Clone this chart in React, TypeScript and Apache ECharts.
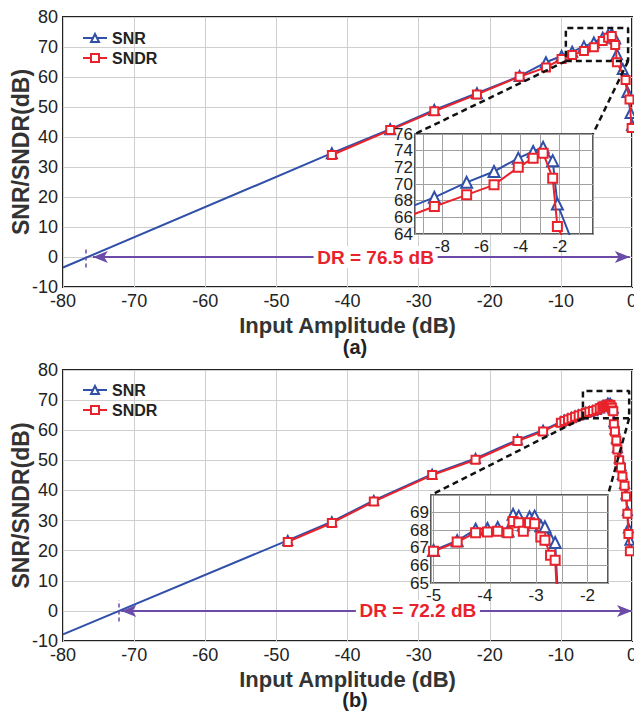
import React, { useEffect, useRef } from "react";
import * as echarts from "echarts";

const FONT = '"Liberation Sans", Arial, Helvetica, sans-serif';
const BLUE = "#2f4fa8";
const RED = "#e8232b";
const PURPLE = "#6b4aa8";
const GRID = "#cfcfcf";
const INK = "#222";

// ---------- Figure (a) ----------
const A_FIT_X = [-80, -42.2];
const A_FIT_Y = [-3.5, 34.6];
const A_SNR_X = [-42.2, -34, -27.8, -21.8, -15.8, -12.1, -9.9, -8.41, -6.76, -5.36, -4.12, -3.36, -2.85, -2.36, -2.12, -1.3, -0.65, -0.2, 0];
const A_SNR_Y = [34.6, 42.6, 49, 54.6, 60.3, 64.9, 67.0, 68.4, 70.2, 71.5, 73.1, 73.9, 74.4, 72.8, 67.6, 62.7, 55, 48, 44];
const A_SNDR_X = [-42.2, -34, -27.8, -21.8, -15.8, -12.1, -9.9, -8.41, -6.76, -5.36, -4.12, -3.36, -2.85, -2.36, -2.12, -0.9, -0.35, -0.05];
const A_SNDR_Y = [34, 42.3, 48.6, 54.2, 60.1, 63.2, 66.0, 67.3, 68.7, 69.9, 72.0, 73.1, 73.7, 70.7, 64.9, 59, 52.5, 43];
const A_BOX_X = [-9.3, -0.55];
const A_BOX_Y = [65.3, 76.3];
const A_INSET_X = [-9.4, -0.3];
const A_INSET_Y = [64, 76];
const A_DR = { from: -75.8, to: -0.3, mark: -76.8, label: "DR = 76.5 dB", labelAt: -36.05 };

// ---------- Figure (b) ----------
const B_FIT_X = [-80, -48.4];
const B_FIT_Y = [-7.8, 23.4];
const B_X = [-48.4, -42.2, -36.3, -28.1, -22.0, -16.1, -12.5, -10.0, -9.5, -9.0, -8.5, -8.0, -7.5, -7.0, -6.5, -6.0, -5.5, -5.0, -4.54, -4.18, -3.95, -3.75, -3.55, -3.45, -3.34, -3.25, -3.13, -3.03, -2.91, -2.83, -2.72, -2.63, -2.55, -2.4, -2.2, -2.05, -1.8, -1.55, -1.35, -1.05, -0.85, -0.65, -0.5, -0.3];
const B_SNR_Y = [23.4, 29.6, 36.7, 45.4, 50.6, 56.8, 60.0, 62.8, 63.3, 63.8, 64.2, 64.7, 65.1, 65.5, 65.9, 66.2, 66.5, 66.85, 67.4, 68.05, 68.1, 68.15, 67.95, 68.9, 68.8, 68.3, 68.75, 68.8, 68.25, 68.2, 67.5, 67.3, 62.8, 60.3, 57.3, 54.3, 50.8, 48.3, 45.3, 42.3, 38.8, 33.3, 27.5, 23.5];
const B_SNDR_Y = [22.9, 29.2, 36.3, 45.1, 50.2, 56.4, 59.6, 62.5, 63.1, 63.6, 64.0, 64.5, 64.9, 65.3, 65.7, 66.1, 66.4, 66.8, 67.33, 67.86, 67.9, 67.94, 67.86, 68.5, 68.43, 67.94, 68.43, 68.37, 67.62, 67.43, 66.57, 66.29, 62.0, 59.6, 56.6, 53.6, 50.0, 47.6, 44.6, 41.6, 38.0, 32.3, 25.5, 19.8];
const B_BOX_X = [-6.9, -0.4];
const B_BOX_Y = [64, 73];
const B_INSET_X = [-5.05, -1.6];
const B_INSET_Y = [65, 70];
const B_DR = { from: -71.8, to: 0, mark: -72.2, label: "DR = 72.2 dB", labelAt: -30.1 };

const MAIN_X = [-80, 0];
const MAIN_Y = [-10, 80];
const MAIN_STEP = 10;

const zip = (xs: number[], ys: number[]) => xs.map((x, i) => [x, ys[i]]);
const boxPts = (bx: number[], by: number[]) => [
  [bx[0], by[0]], [bx[1], by[0]], [bx[1], by[1]], [bx[0], by[1]], [bx[0], by[0]],
];

export default function App() {
  const ref = useRef<HTMLDivElement>(null);
  useEffect(() => {
    document.body.style.margin = "0";
    const chart = echarts.init(ref.current!, null, { renderer: "svg" });

    const mainGrids = [
      { left: 63, top: 17, width: 569, height: 270 },
      { left: 63, top: 370, width: 569, height: 271 },
    ];
    const insetGrids = [
      { left: 415, top: 134, width: 178, height: 100 },
      { left: 431, top: 495, width: 177, height: 88 },
    ];

    const gb = { show: true, borderColor: INK, outerBoundsMode: "none", containLabel: false };
    const grid = [
      { ...mainGrids[0], ...gb, borderWidth: 2, backgroundColor: "transparent" },
      { ...insetGrids[0], ...gb, borderWidth: 1.5, backgroundColor: "#fff", z: 10 },
      { ...mainGrids[1], ...gb, borderWidth: 2, backgroundColor: "transparent" },
      { ...insetGrids[1], ...gb, borderWidth: 1.5, backgroundColor: "#fff", z: 10 },
    ];

    const labelStyle = { fontFamily: FONT, fontSize: 18, color: INK, hideOverlap: false };
    const insetLabel = { fontFamily: FONT, fontSize: 17, color: INK, hideOverlap: false, showMinLabel: true, showMaxLabel: true };
    const mainX = (gridIndex: number) => ({
      type: "value", gridIndex, min: MAIN_X[0], max: MAIN_X[1], interval: MAIN_STEP,
      axisLine: { show: false }, axisTick: { show: false },
      splitLine: { lineStyle: { color: GRID, width: 1 } },
      axisLabel: { ...labelStyle, margin: 5 },
      name: "Input Amplitude (dB)", nameLocation: "middle", nameGap: 27, nameMoveOverlap: false,
      nameTextStyle: { fontFamily: FONT, fontSize: 22, fontWeight: "bold", color: "#333" },
    });
    const mainY = (gridIndex: number) => ({
      type: "value", gridIndex, min: MAIN_Y[0], max: MAIN_Y[1], interval: MAIN_STEP,
      axisLine: { show: false }, axisTick: { show: false },
      splitLine: { lineStyle: { color: GRID, width: 1 } },
      axisLabel: { ...labelStyle, margin: 5 },
      name: "SNR/SNDR(dB)", nameLocation: "middle", nameRotate: 90, nameGap: 31, nameMoveOverlap: false,
      nameTextStyle: { fontFamily: FONT, fontSize: 23, fontWeight: "bold", color: "#333" },
    });
    const insetCommon = {
      type: "value", z: 11,
      axisLine: { show: false }, axisTick: { show: false },
      splitLine: { lineStyle: { color: "#a0a0a0", width: 1 } },
    };

    const xAxis = [
      mainX(0),
      {
        ...insetCommon, gridIndex: 1, min: A_INSET_X[0], max: A_INSET_X[1], splitNumber: 9,
        axisLabel: { ...insetLabel, margin: 4, formatter: (v: number) => (Number.isInteger(v) && v % 2 === 0 ? String(v) : "") },
      },
      mainX(2),
      {
        ...insetCommon, gridIndex: 3, min: B_INSET_X[0], max: B_INSET_X[1], splitNumber: 7,
        axisLabel: { ...insetLabel, margin: 4, formatter: (v: number) => (Number.isInteger(v) ? String(v) : "") },
      },
    ];
    const yAxis = [
      mainY(0),
      // inset (a): labels 64, 68, 72, 76
      {
        ...insetCommon, gridIndex: 1, position: "left", min: A_INSET_Y[0], max: A_INSET_Y[1], interval: 2,
        axisLabel: { ...insetLabel, margin: 2, formatter: (v: number) => (v % 4 === 0 ? String(v) : "") },
      },
      mainY(2),
      {
        ...insetCommon, gridIndex: 3, position: "left", min: B_INSET_Y[0], max: B_INSET_Y[1], interval: 1,
        axisLabel: { ...insetLabel, margin: 2, formatter: (v: number) => (v === B_INSET_Y[1] ? "" : String(v)) },
      },
      // inset (a): labels 66, 70, 74 (same scale, second label layer)
      {
        ...insetCommon, gridIndex: 1, position: "left", offset: 0, min: A_INSET_Y[0], max: A_INSET_Y[1], interval: 2,
        splitLine: { show: false },
        axisLabel: {
          ...insetLabel, showMinLabel: false, showMaxLabel: false, margin: 2,
          formatter: (v: number) => (v % 4 === 2 ? String(v) : ""),
        },
      },
    ];

    const drMarks = (dr: typeof A_DR) => ({
      markLine: {
        silent: true, z: 5, symbolSize: [9, 15],
        label: { show: false },
        data: [
          [
            { coord: [dr.from, 0], symbol: "arrow", lineStyle: { color: PURPLE, width: 2, type: "solid" } },
            { coord: [dr.to, 0], symbol: "arrow" },
          ],
          [
            { coord: [dr.mark, -3.5], symbol: "none", lineStyle: { color: PURPLE, width: 1.5, type: [4, 3] } },
            { coord: [dr.mark, 3.5], symbol: "none" },
          ],
        ],
      },
      markPoint: {
        silent: true, z: 6,
        data: [
          {
            coord: [dr.labelAt, 0], symbol: "rect", symbolSize: [124, 22],
            itemStyle: { color: "#fff" },
            label: {
              show: true, position: "inside", formatter: dr.label,
              color: RED, fontWeight: "bold", fontSize: 19, fontFamily: FONT,
            },
          },
        ],
      },
    });

    const snr = (xi: number, yi: number, data: number[][], size: number, z: number) => ({
      type: "line", name: "SNR", xAxisIndex: xi, yAxisIndex: yi, data, z,
      symbol: "emptyTriangle", symbolSize: size,
      lineStyle: { color: BLUE, width: 2 }, itemStyle: { color: BLUE, borderWidth: 1.5 },
    });
    const sndr = (xi: number, yi: number, data: number[][], size: number, z: number) => ({
      type: "line", name: "SNDR", xAxisIndex: xi, yAxisIndex: yi, data, z,
      symbol: "emptyRect", symbolSize: size,
      lineStyle: { color: RED, width: 2 }, itemStyle: { color: RED, borderWidth: 1.5 },
    });
    const fit = (xi: number, yi: number, data: number[][], dr: typeof A_DR) => ({
      type: "line", name: "fit", xAxisIndex: xi, yAxisIndex: yi, data, z: 2,
      symbol: "none", lineStyle: { color: BLUE, width: 2 }, ...drMarks(dr),
    });
    const box = (xi: number, yi: number, data: number[][]) => ({
      type: "line", name: "zoom", xAxisIndex: xi, yAxisIndex: yi, data, z: 4,
      symbol: "none", lineStyle: { color: "#111", width: 2.5, type: [6, 4] },
    });

    const A_SNR = zip(A_SNR_X, A_SNR_Y);
    const A_SNDR = zip(A_SNDR_X, A_SNDR_Y);
    const B_SNR = zip(B_X, B_SNR_Y);
    const B_SNDR = zip(B_X, B_SNDR_Y);

    const series = [
      fit(0, 0, zip(A_FIT_X, A_FIT_Y), A_DR),
      snr(0, 0, A_SNR, 10, 2),
      sndr(0, 0, A_SNDR, 8, 3),
      box(0, 0, boxPts(A_BOX_X, A_BOX_Y)),
      snr(1, 1, A_SNR, 11, 12),
      sndr(1, 1, A_SNDR, 9, 13),
      fit(2, 2, zip(B_FIT_X, B_FIT_Y), B_DR),
      snr(2, 2, B_SNR, 9, 2),
      sndr(2, 2, B_SNDR, 8, 3),
      box(2, 2, boxPts(B_BOX_X, B_BOX_Y)),
      snr(3, 3, B_SNR, 11, 12),
      sndr(3, 3, B_SNDR, 9, 13),
    ];

    const legendBase = {
      orient: "vertical", itemGap: 4, itemWidth: 24, itemHeight: 10,
      data: ["SNR", "SNDR"], selectedMode: false,
      textStyle: { fontFamily: FONT, fontSize: 16, fontWeight: "bold", color: INK },
    };

    chart.setOption({
      animation: false,
      backgroundColor: "#fff",
      grid, xAxis, yAxis, series,
      legend: [
        { ...legendBase, left: 77, top: 25 },
        { ...legendBase, left: 77, top: 377 },
      ],
    });

    // connectors from zoom boxes to insets
    const connectors: any[] = [];
    const pairs = [
      { main: 0, inset: 1, bx: A_BOX_X, by: A_BOX_Y, ix: A_INSET_X, iy: A_INSET_Y },
      { main: 2, inset: 3, bx: B_BOX_X, by: B_BOX_Y, ix: B_INSET_X, iy: B_INSET_Y },
    ];
    pairs.forEach((p) => {
      const bl = chart.convertToPixel({ gridIndex: p.main }, [p.bx[0], p.by[0]]) as number[];
      const br = chart.convertToPixel({ gridIndex: p.main }, [p.bx[1], p.by[0]]) as number[];
      const tl = chart.convertToPixel({ gridIndex: p.inset }, [p.ix[0], p.iy[1]]) as number[];
      const tr = chart.convertToPixel({ gridIndex: p.inset }, [p.ix[1], p.iy[1]]) as number[];
      [[bl, tl], [br, tr]].forEach(([a, b]) => {
        connectors.push({
          type: "line", z: 20, silent: true,
          shape: { x1: a[0], y1: a[1], x2: b[0], y2: b[1] },
          style: { stroke: "#111", lineWidth: 2.5, lineDash: [6, 4] },
        });
      });
    });

    chart.setOption({
      graphic: [
        ...connectors,
        {
          type: "text", x: 355, y: 347, z: 20,
          style: { text: "(a)", fontFamily: FONT, fontSize: 20, fontWeight: "bold", fill: INK, align: "center", verticalAlign: "middle" },
        },
        {
          type: "text", x: 355, y: 700, z: 20,
          style: { text: "(b)", fontFamily: FONT, fontSize: 20, fontWeight: "bold", fill: INK, align: "center", verticalAlign: "middle" },
        },
      ],
    });

    return () => chart.dispose();
  }, []);
  return <div ref={ref} style={{ width: 634, height: 713 }} />;
}
